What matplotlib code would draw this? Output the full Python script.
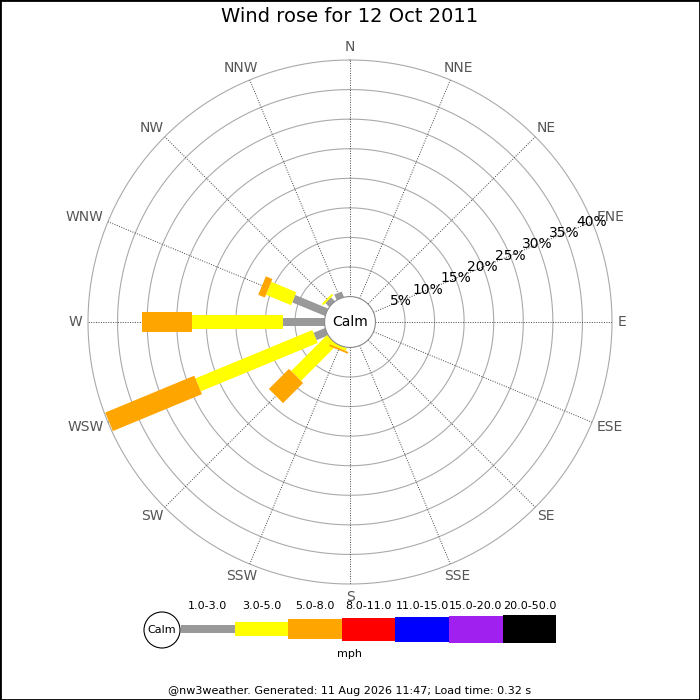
import matplotlib
matplotlib.use('Agg')
import matplotlib.pyplot as plt
from matplotlib.patches import Rectangle, Circle
import numpy as np

title = 'Wind rose for 12 Oct 2011'
footer = '@nw3weather. Generated: 11 Aug 2026 11:47; Load time: 0.32 s'
unit = 'mph'

dir_names = ['N', 'NNE', 'NE', 'ENE', 'E', 'ESE', 'SE', 'SSE',
             'S', 'SSW', 'SW', 'WSW', 'W', 'WNW', 'NW', 'NNW']
ring_pcts = [5, 10, 15, 20, 25, 30, 35, 40]

band_labels = ['1.0-3.0', '3.0-5.0', '5.0-8.0', '8.0-11.0', '11.0-15.0', '15.0-20.0', '20.0-50.0']
band_colors = ['#999999', '#ffff00', '#ffa500', '#ff0000', '#0000ff', '#a020f0', '#000000']
band_px = [8, 14, 20, 23, 25, 27, 28]   # bar thickness in pixels

# % of time per direction, per speed band (N, NNE, ... NNW)
freq_1_3 = [0, 0, 0, 0, 0, 0, 0, 0, 0, 0, 0, 2.1, 7.0, 6.0, 0.9, 1.0]
freq_3_5 = [0, 0, 0, 0, 0, 0, 0, 0, 0, 0.5, 8.6, 21.4, 15.4, 4.6, 0.35, 0]
freq_5_8 = [0, 0, 0, 0, 0, 0, 0, 0, 0, 0.3, 4.8, 16.3, 8.5, 1.2, 0, 0]
freq_8_11 = [0] * 16
freq_11_15 = [0] * 16
freq_15_20 = [0] * 16
freq_20_50 = [0] * 16
bands = [freq_1_3, freq_3_5, freq_5_8, freq_8_11, freq_11_15, freq_15_20, freq_20_50]

off = 4.3                # calm hole, in % units
rmax = ring_pcts[-1] + off
px = 1 / 0.72            # points -> pixels at dpi 100

fig = plt.figure(figsize=(7, 7), dpi=100)
ax = fig.add_axes([0.1257, 0.1657, 0.7486, 0.7486], projection='polar')
ax.set_theta_zero_location('N')
ax.set_theta_direction(-1)
ax.set_ylim(0, rmax)
ax.set_xticks([])
ax.set_yticks([])
ax.grid(False)
ax.spines['polar'].set_visible(False)

theta = np.radians(np.arange(16) * 22.5)
th_full = np.linspace(0, 2 * np.pi, 361)

for p in ring_pcts:
    ax.plot(th_full, np.full_like(th_full, p + off), color='#aaaaaa', lw=0.8, zorder=1, clip_on=False)
for th in theta:
    ax.plot([th, th], [off, rmax], color='#444444', ls=(0, (1, 1.5)), lw=0.7, zorder=2)

cum = np.zeros(16)
for band, color, w in zip(bands, band_colors, band_px):
    vals = np.array(band, dtype=float)
    for th, base, v in zip(theta, cum, vals):
        if v > 0:
            ax.plot([th, th], [base + off, base + v + off], color=color, lw=w / px,
                    solid_capstyle='butt', zorder=3)
    cum += vals

for p in ring_pcts:
    ax.text(np.radians(67.5), p + off, f'{p}%', ha='center', va='center', fontsize=10, zorder=5)

ax.fill(th_full, np.full_like(th_full, off), facecolor='white', edgecolor='#888888', lw=0.8, zorder=6)
ax.text(0, 0, 'Calm', ha='center', va='center', fontsize=10, zorder=7)

# compass labels, nudged outward by half their size
renderer = fig.canvas.get_renderer()
r_lab = rmax * 268 / 262
for name, th in zip(dir_names, theta):
    t = ax.annotate(name, (th, r_lab), textcoords='offset pixels', xytext=(0, 0),
                    ha='center', va='center', fontsize=10, color='#555555', annotation_clip=False)
    bb = t.get_window_extent(renderer)
    t.xyann = (bb.width / 2 * np.sin(th), bb.height / 2 * np.cos(th))

# overlay in pixel coords for title, legend, footer
ov = fig.add_axes([0, 0, 1, 1])
ov.set_xlim(0, 700)
ov.set_ylim(700, 0)
ov.axis('off')

ov.text(350, 17, title, ha='center', va='center', fontsize=14)

ov.add_patch(Circle((162, 630), 18, facecolor='white', edgecolor='black', lw=0.8))
ov.text(162, 630, 'Calm', ha='center', va='center', fontsize=8)
x0, seg = 181, 53.6
for i, (lab, color, w) in enumerate(zip(band_labels, band_colors, band_px)):
    ov.add_patch(Rectangle((x0 + i * seg, 629 - w / 2), seg, w, facecolor=color, edgecolor='none'))
    ov.text(x0 + (i + 0.5) * seg, 606, lab, ha='center', va='center', fontsize=8)
ov.text(350, 654, unit, ha='center', va='center', fontsize=8)

ov.text(350, 691, footer, ha='center', va='center', fontsize=8)

ov.add_patch(Rectangle((0, 0), 700, 700, fill=False, edgecolor='black', lw=2, clip_on=False))

fig.savefig('out.png', dpi=100)
